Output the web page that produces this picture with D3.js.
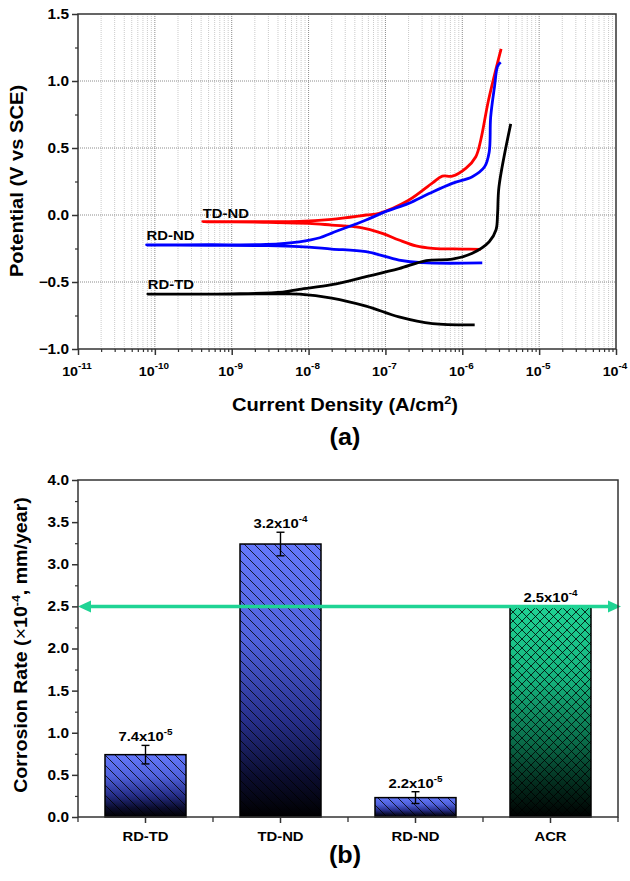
<!DOCTYPE html>
<html>
<head>
<meta charset="utf-8">
<script src="https://cdn.jsdelivr.net/npm/d3@7"></script>
<style>
  body { margin: 0; background: #fff; }
  text { font-family: "Liberation Sans", Arial, sans-serif; font-weight: bold; fill: #000; }
</style>
</head>
<body>
<div id="chart"></div>
<script>
// ---- panel (a): polarisation curves, [current A/cm2, potential V] ----
var tdnd = [[1.74e-6,-0.256],[1.0e-6,-0.254],[4.1e-7,-0.249],[2.5e-7,-0.231],[1.5e-7,-0.187],
  [9.1e-8,-0.137],[4.6e-8,-0.092],[2.0e-8,-0.075],[1.0e-8,-0.062],[3e-9,-0.055],[1e-9,-0.052],
  [4.2e-10,-0.05],[1e-9,-0.049],[7.6e-9,-0.048],[2.0e-8,-0.032],[5.6e-8,0.0],[8.3e-8,0.013],
  [2.0e-7,0.11],[4.1e-7,0.24],[5.5e-7,0.29],[7.4e-7,0.29],[1.12e-6,0.35],[1.5e-6,0.435],
  [1.74e-6,0.56],[2.2e-6,0.86],[3.2e-6,1.24]];
var rdnd = [[1.82e-6,-0.358],[3.0e-7,-0.356],[1.5e-7,-0.336],[5.6e-8,-0.274],[2.0e-8,-0.254],
  [7.6e-9,-0.236],[2.8e-9,-0.229],[5e-10,-0.226],[7.8e-11,-0.224],[5e-10,-0.222],[2.8e-9,-0.22],
  [7.6e-9,-0.2],[1.4e-8,-0.17],[2.0e-8,-0.135],[5.6e-8,-0.037],[1.0e-7,0.025],[2.0e-7,0.087],
  [3.7e-7,0.16],[7.4e-7,0.236],[1.35e-6,0.286],[1.95e-6,0.36],[2.24e-6,0.47],[2.34e-6,0.73],
  [2.63e-6,0.96],[2.88e-6,1.11],[3.16e-6,1.14]];
var rdtd = [[1.45e-6,-0.82],[4.1e-7,-0.81],[1.5e-7,-0.76],[5.6e-8,-0.68],[2.0e-8,-0.62],
  [7.6e-9,-0.59],[4.6e-9,-0.588],[1e-9,-0.59],[8.1e-11,-0.59],[1e-9,-0.588],[4.6e-9,-0.575],
  [7.6e-9,-0.555],[2.0e-8,-0.52],[5.6e-8,-0.46],[1.5e-7,-0.40],[3.4e-7,-0.34],[7.4e-7,-0.33],
  [1.35e-6,-0.286],[2.24e-6,-0.2],[2.75e-6,-0.11],[2.88e-6,0.013],[3.0e-6,0.21],[4.27e-6,0.68]];
var curveNames = ["TD-ND", "RD-ND", "RD-TD"];
var curveColors = ["#ff0000", "#0000ff", "#000000"];
var potTicks = [-1.0, -0.5, 0.0, 0.5, 1.0, 1.5];
var decadeExps = [-11, -10, -9, -8, -7, -6, -5, -4];

// ---- panel (b): corrosion rate bars ----
var categories = ["RD-TD", "TD-ND", "RD-ND", "ACR"];
var rates = [0.74, 3.24, 0.23, 2.5];
var rateErr = [0.11, 0.14, 0.07, null];
var labelBase = ["7.4", "3.2", "2.2", "2.5"];
var labelExp = ["-5", "-4", "-5", "-4"];
var acrLimit = 2.5;
var rateTicks = [0, 0.5, 1, 1.5, 2, 2.5, 3, 3.5, 4];

var W = 630, H = 881;
var svg = d3.select("#chart").append("svg").attr("width", W).attr("height", H);
var defs = svg.append("defs");

function supText(g, base, exp, size, supSize, rise) {
  g.append("tspan").text(base).style("font-size", size + "px");
  g.append("tspan").text(exp).style("font-size", supSize + "px").attr("dy", -rise);
}
// the figure's lettering is a bit wider than Arial: widen it around its anchor
function stretch(sel, s) {
  sel.each(function() {
    var t = d3.select(this), x0 = +t.attr("x") || 0, tr = t.attr("transform") || "";
    t.attr("transform", tr + " translate(" + x0 + ",0) scale(" + s + ",1) translate(" + (-x0) + ",0)");
  });
}
function tickText(sel, size) {
  sel.style("font-size", size + "px").style("font-family", "Liberation Sans, Arial")
    .style("font-weight", "bold").attr("fill", "#000");
}

// ================= panel (a) =================
var x = d3.scaleLog().domain([1e-11, 1e-4]).range([78, 616]);
var y = d3.scaleLinear().domain([-1, 1.5]).range([349, 14]);
var ga = svg.append("g");

var minorVals = [];
decadeExps.slice(0, -1).forEach(function(e) {
  for (var m = 2; m <= 9; m++) minorVals.push(m * Math.pow(10, e));
});
var majorVals = decadeExps.map(function(e) { return Math.pow(10, e); });

ga.selectAll(".vminor").data(minorVals).enter().append("line")
  .attr("x1", d => x(d)).attr("x2", d => x(d)).attr("y1", y(-1)).attr("y2", y(1.5))
  .attr("stroke", "#bdbdbd").attr("stroke-width", 0.8).attr("stroke-dasharray", "1,1");
ga.selectAll(".vmajor").data(majorVals.slice(1, -1)).enter().append("line")
  .attr("x1", d => x(d)).attr("x2", d => x(d)).attr("y1", y(-1)).attr("y2", y(1.5))
  .attr("stroke", "#8c8c8c").attr("stroke-width", 1).attr("stroke-dasharray", "1,1");
ga.selectAll(".hmajor").data(potTicks.slice(1, -1)).enter().append("line")
  .attr("x1", x(1e-11)).attr("x2", x(1e-4)).attr("y1", d => y(d)).attr("y2", d => y(d))
  .attr("stroke", "#8c8c8c").attr("stroke-width", 1).attr("stroke-dasharray", "1,1");

var line = d3.line().x(d => x(d[0])).y(d => y(d[1])).curve(d3.curveCatmullRom.alpha(0.5));
[tdnd, rdnd, rdtd].forEach(function(c, i) {
  ga.append("path").datum(c).attr("d", line).attr("fill", "none")
    .attr("stroke", curveColors[i]).attr("stroke-width", 2.8).attr("stroke-linejoin", "round");
});

// curve labels near the rest-potential ends
var labelPos = [[tdnd[11], 4], [rdnd[8], 5], [rdtd[8], 5]];
labelPos.forEach(function(p, i) {
  ga.append("text").attr("x", x(p[0][0])).attr("y", y(p[0][1]) - p[1])
    .style("font-size", "13.5px").text(curveNames[i]).call(stretch, 1.1);
});

// frame
ga.append("rect").attr("x", 78).attr("y", 14).attr("width", 538).attr("height", 335)
  .attr("fill", "none").attr("stroke", "#333").attr("stroke-width", 1.5);

// axes ticks
ga.append("g").attr("transform", "translate(0,349)")
  .call(d3.axisBottom(x).tickValues(minorVals).tickSize(3).tickFormat(""))
  .call(g => g.select(".domain").remove())
  .selectAll("line").attr("stroke", "#333").attr("stroke-width", 1.2);
var xa = ga.append("g").attr("transform", "translate(0,349)")
  .call(d3.axisBottom(x).tickValues(majorVals).tickSize(6).tickFormat(""));
xa.select(".domain").remove();
xa.selectAll("line").attr("stroke", "#333").attr("stroke-width", 1.5);
decadeExps.forEach(function(e) {
  var t = ga.append("text").attr("x", x(Math.pow(10, e)) - 1).attr("y", 376).attr("text-anchor", "middle");
  supText(t, "10", String(e), 13, 9, 7);
  stretch(t, 1.1);
});

var minorPot = d3.range(-0.75, 1.5, 0.5);
ga.append("g").attr("transform", "translate(78,0)")
  .call(d3.axisLeft(y).tickValues(minorPot).tickSize(3).tickFormat(""))
  .call(g => g.select(".domain").remove())
  .selectAll("line").attr("stroke", "#333").attr("stroke-width", 1.2);
var ya = ga.append("g").attr("transform", "translate(78,0)")
  .call(d3.axisLeft(y).tickValues(potTicks).tickSize(6).tickFormat(d3.format(".1f")));
ya.select(".domain").remove();
ya.selectAll("line").attr("stroke", "#333").attr("stroke-width", 1.5);
ya.selectAll("text").call(tickText, 14).attr("x", -9).call(stretch, 1.1);

var xt = ga.append("text").attr("x", 345).attr("y", 411).attr("text-anchor", "middle");
xt.append("tspan").text("Current Density (A/cm").style("font-size", "17.5px");
xt.append("tspan").text("2").style("font-size", "11px").attr("dy", -7);
xt.append("tspan").text(")").style("font-size", "17.5px").attr("dy", 7);
stretch(xt, 1.15);
ga.append("text").attr("transform", "translate(23,181) rotate(-90)").attr("text-anchor", "middle")
  .style("font-size", "17.5px").text("Potential (V vs SCE)").call(stretch, 1.15);
ga.append("text").attr("x", 345).attr("y", 445).attr("text-anchor", "middle")
  .style("font-size", "24px").text("(a)").call(stretch, 1.05);

// ================= panel (b) =================
var xb = d3.scaleBand().domain(categories).range([78, 618]).paddingInner(0.4).paddingOuter(0.2);
var yb = d3.scaleLinear().domain([0, 4]).range([817, 480]);
var gb = svg.append("g");

function grad(id, stops) {
  var g = defs.append("linearGradient").attr("id", id).attr("x1", 0).attr("y1", 0).attr("x2", 0).attr("y2", 1);
  stops.forEach(function(s) { g.append("stop").attr("offset", s[0]).attr("stop-color", s[1]); });
}
grad("gBlue", [["0%", "#6478fb"], ["35%", "#4f61dc"], ["65%", "#262e8a"], ["85%", "#0b0d30"], ["100%", "#000"]]);
grad("gGreen", [["0%", "#1fd394"], ["35%", "#15b27c"], ["65%", "#0a6a48"], ["85%", "#032a1c"], ["100%", "#000"]]);

var ph = defs.append("pattern").attr("id", "hatch").attr("patternUnits", "userSpaceOnUse")
  .attr("width", 10).attr("height", 10);
ph.append("path").attr("d", "M-5,5 L5,15 M0,0 L10,10 M5,-5 L15,5")
  .attr("stroke", "#000").attr("stroke-width", 0.8);
var px = defs.append("pattern").attr("id", "cross").attr("patternUnits", "userSpaceOnUse")
  .attr("width", 9).attr("height", 9);
px.append("path").attr("d", "M-4.5,4.5 L4.5,13.5 M0,0 L9,9 M4.5,-4.5 L13.5,4.5 M-4.5,4.5 L4.5,-4.5 M0,9 L9,0 M4.5,13.5 L13.5,4.5")
  .attr("stroke", "#000").attr("stroke-width", 0.8);

var bars = gb.selectAll(".bar").data(categories).enter().append("g");
bars.append("rect").attr("x", d => xb(d)).attr("width", xb.bandwidth())
  .attr("y", (d, i) => yb(rates[i])).attr("height", (d, i) => yb(0) - yb(rates[i]))
  .attr("fill", d => d === "ACR" ? "url(#gGreen)" : "url(#gBlue)");
bars.append("rect").attr("x", d => xb(d)).attr("width", xb.bandwidth())
  .attr("y", (d, i) => yb(rates[i])).attr("height", (d, i) => yb(0) - yb(rates[i]))
  .attr("fill", d => d === "ACR" ? "url(#cross)" : "url(#hatch)")
  .attr("stroke", "#000").attr("stroke-width", 1.5);

// error bars
categories.forEach(function(c, i) {
  if (rateErr[i] == null) return;
  var cx = xb(c) + xb.bandwidth() / 2;
  var e = gb.append("g").attr("stroke", "#000").attr("stroke-width", 1.4);
  e.append("line").attr("x1", cx).attr("x2", cx).attr("y1", yb(rates[i] + rateErr[i])).attr("y2", yb(rates[i] - rateErr[i]));
  e.append("line").attr("x1", cx - 4).attr("x2", cx + 4).attr("y1", yb(rates[i] + rateErr[i])).attr("y2", yb(rates[i] + rateErr[i]));
  e.append("line").attr("x1", cx - 4).attr("x2", cx + 4).attr("y1", yb(rates[i] - rateErr[i])).attr("y2", yb(rates[i] - rateErr[i]));
});

// green ACR line with arrows
var ay = yb(acrLimit), gc = "#1fd494";
gb.append("line").attr("x1", 86).attr("x2", 612).attr("y1", ay).attr("y2", ay)
  .attr("stroke", gc).attr("stroke-width", 3.5);
gb.append("path").attr("d", "M78," + ay + " L91," + (ay - 6) + " L91," + (ay + 6) + "Z").attr("fill", gc);
gb.append("path").attr("d", "M621," + ay + " L608," + (ay - 6) + " L608," + (ay + 6) + "Z").attr("fill", gc);

// value labels
categories.forEach(function(c, i) {
  var top = rates[i] + (rateErr[i] || 0);
  var t = gb.append("text").attr("x", xb(c) + xb.bandwidth() / 2).attr("y", yb(top) - 4)
    .attr("text-anchor", "middle");
  supText(t, labelBase[i] + "x10", labelExp[i], 13.5, 9, 6);
  stretch(t, 1.1);
});

// frame
gb.append("rect").attr("x", 78).attr("y", 480).attr("width", 540).attr("height", 337)
  .attr("fill", "none").attr("stroke", "#333").attr("stroke-width", 1.5);

// x ticks: category centres and band edges
var edges = d3.range(0, 5).map(k => 78 + xb.step() * k);
gb.selectAll(".edge").data(edges).enter().append("line")
  .attr("x1", d => d).attr("x2", d => d).attr("y1", 817).attr("y2", 822)
  .attr("stroke", "#333").attr("stroke-width", 1.3);
var xba = gb.append("g").attr("transform", "translate(0,817)")
  .call(d3.axisBottom(xb).tickSize(6).tickPadding(8));
xba.select(".domain").remove();
xba.selectAll("line").attr("stroke", "#333").attr("stroke-width", 1.5);
xba.selectAll("text").call(tickText, 13.5).call(stretch, 1.1);

gb.append("g").attr("transform", "translate(78,0)")
  .call(d3.axisLeft(yb).tickValues(d3.range(0.25, 4, 0.5)).tickSize(3).tickFormat(""))
  .call(g => g.select(".domain").remove())
  .selectAll("line").attr("stroke", "#333").attr("stroke-width", 1.2);
var yba = gb.append("g").attr("transform", "translate(78,0)")
  .call(d3.axisLeft(yb).tickValues(rateTicks).tickSize(6).tickFormat(d3.format(".1f")));
yba.select(".domain").remove();
yba.selectAll("line").attr("stroke", "#333").attr("stroke-width", 1.5);
yba.selectAll("text").call(tickText, 14).attr("x", -9).call(stretch, 1.1);

var yt = gb.append("text").attr("transform", "translate(27,645) rotate(-90)").attr("text-anchor", "middle");
yt.append("tspan").text("Corrosion Rate (").style("font-size", "17.5px");
yt.append("tspan").text("\u00d7").style("font-size", "17.5px").style("font-weight", "normal");
yt.append("tspan").text("10").style("font-size", "17.5px");
yt.append("tspan").text("-4").style("font-size", "11px").attr("dy", -7);
yt.append("tspan").text(", mm/year)").style("font-size", "17.5px").attr("dy", 7);
stretch(yt, 1.12);
gb.append("text").attr("x", 345).attr("y", 863).attr("text-anchor", "middle")
  .style("font-size", "24px").text("(b)").call(stretch, 1.05);
</script>
</body>
</html>
